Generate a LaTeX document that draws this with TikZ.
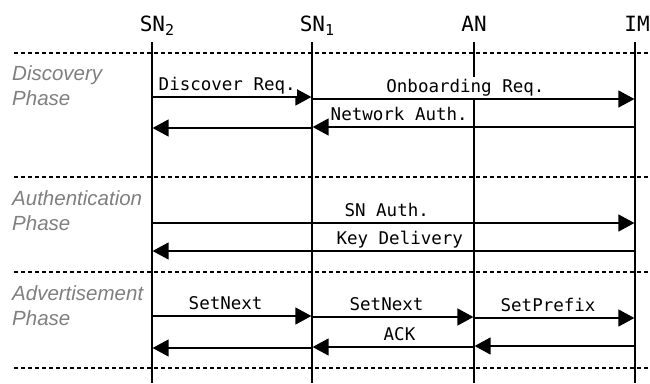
\documentclass[tikz,border=0pt]{standalone}
\usepackage{fontspec}
\setmonofont{DejaVu Sans Mono}
\setsansfont{Liberation Sans}
\usetikzlibrary{arrows.meta}
\definecolor{phasegray}{HTML}{7F7F7F}
\newcommand{\lowidx}[1]{\raisebox{-4pt}{\fontsize{15}{15}\selectfont #1}}
\tikzset{
  head/.style={font=\ttfamily\fontsize{21}{24}\selectfont, anchor=base, inner sep=0pt},
  life/.style={line width=1.3pt},
  sep/.style={line width=1.1pt, dash pattern=on 4pt off 3pt},
  msg/.style={line width=1.3pt, -{Triangle[length=16pt,width=17pt]}, shorten >=0.6pt},
  lbl/.style={font=\ttfamily\fontsize{17.5}{20}\selectfont, fill=white, inner xsep=1pt, inner ysep=2pt, anchor=base, yshift=7pt},
  phase/.style={font=\sffamily\itshape\fontsize{20.5}{24.5}\selectfont, text=phasegray, anchor=base west, inner sep=0pt, align=left}
}
\begin{document}
\begin{tikzpicture}[x=1pt,y=-1pt]
\useasboundingbox (0,0) rectangle (650,383);
% headers
\node[head] (h2) at (157,31) {SN\lowidx{2}};
\node[head] (h1) at (317,31) {SN\lowidx{1}};
\node[head] (han) at (474,31) {AN};
\node[head] (him) at (637,31) {IM};
% lifelines
\coordinate (t2) at (152,42); \coordinate (b2) at (152,383);
\coordinate (t1) at (312,42); \coordinate (b1) at (312,383);
\coordinate (tan) at (474,42); \coordinate (ban) at (474,383);
\coordinate (tim) at (635,42); \coordinate (bim) at (635,383);
\draw[life] (t2) -- (b2);
\draw[life] (t1) -- (b1);
\draw[life] (tan) -- (ban);
\draw[life] (tim) -- (bim);
% separators
\coordinate (s1a) at (14,53);  \coordinate (s1b) at (650,53);
\coordinate (s2a) at (14,177); \coordinate (s2b) at (650,177);
\coordinate (s3a) at (14,272); \coordinate (s3b) at (650,272);
\coordinate (s4a) at (14,368); \coordinate (s4b) at (650,368);
\draw[sep] (s1a) -- (s1b);
\draw[sep] (s2a) -- (s2b);
\draw[sep] (s3a) -- (s3b);
\draw[sep] (s4a) -- (s4b);
% phase labels
\node[phase] (p1) at (12,105) {Discovery\\Phase};
\node[phase] (p2) at (12,230) {Authentication\\Phase};
\node[phase] (p3) at (12,325) {Advertisement\\Phase};
% discovery
\draw[msg] (t2 |- 0,97) -- (t1 |- 0,97) node[lbl, pos=0.47] {Discover Req.};
\draw[msg] (t1 |- 0,99) -- (tim |- 0,99) node[lbl, pos=0.475] {Onboarding Req.};
\draw[msg] (tim |- 0,127) -- (t1 |- 0,127) node[lbl, pos=0.73] {Network Auth.};
\draw[msg] (t1 |- 0,128) -- (t2 |- 0,128);
% authentication
\draw[msg] (t2 |- 0,223) -- (tim |- 0,223) node[lbl, pos=0.486] {SN Auth.};
\draw[msg] (tim |- 0,251) -- (t2 |- 0,251) node[lbl, pos=0.487] {Key Delivery};
% advertisement
\draw[msg] (t2 |- 0,316) -- (t1 |- 0,316) node[lbl, pos=0.46] {SetNext};
\draw[msg] (t1 |- 0,317) -- (tan |- 0,317) node[lbl, pos=0.46] {SetNext};
\draw[msg] (tan |- 0,318) -- (tim |- 0,318) node[lbl, pos=0.46] {SetPrefix};
\draw[msg] (tim |- 0,346) -- (tan |- 0,346);
\draw[msg] (tan |- 0,347) -- (t1 |- 0,347) node[lbl, pos=0.46] {ACK};
\draw[msg] (t1 |- 0,348) -- (t2 |- 0,348);
\end{tikzpicture}
\end{document}
